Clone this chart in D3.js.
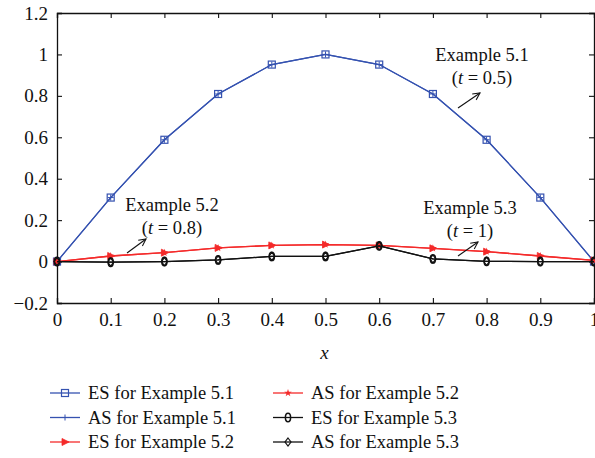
<!DOCTYPE html>
<html>
<head>
<meta charset="utf-8">
<script src="https://cdn.jsdelivr.net/npm/d3@7"></script>
<style>
  body { margin: 0; background: #fff; }
  svg text { font-family: "Liberation Serif", "DejaVu Serif", serif; fill: #111; }
</style>
</head>
<body>
<svg id="chart" width="595" height="458"></svg>
<script>
// data
var xs = [0, 0.1, 0.2, 0.3, 0.4, 0.5, 0.6, 0.7, 0.8, 0.9, 1];
var es51 = [0, 0.309, 0.588, 0.809, 0.951, 1, 0.951, 0.809, 0.588, 0.309, 0];
var as51 = [0, 0.309, 0.588, 0.809, 0.951, 1, 0.951, 0.809, 0.588, 0.309, 0];
var es52 = [0, 0.027, 0.043, 0.066, 0.078, 0.082, 0.078, 0.064, 0.048, 0.027, 0.006];
var as52 = [0, 0.027, 0.043, 0.066, 0.078, 0.082, 0.078, 0.064, 0.048, 0.027, 0.006];
var es53 = [0, -0.003, 0, 0.008, 0.025, 0.025, 0.076, 0.013, 0.001, 0, 0];
var as53 = [0, -0.003, 0, 0.008, 0.025, 0.025, 0.076, 0.013, 0.001, 0, 0];
var xTicks = [0, 0.1, 0.2, 0.3, 0.4, 0.5, 0.6, 0.7, 0.8, 0.9, 1];
var yTicks = [-0.2, 0, 0.2, 0.4, 0.6, 0.8, 1, 1.2];
var seriesNames = ["ES for Example 5.1", "AS for Example 5.1", "ES for Example 5.2",
                   "AS for Example 5.2", "ES for Example 5.3", "AS for Example 5.3"];

var blue = "#3552b0", red = "#f42a2a", black = "#111";
var series = [
  { name: seriesNames[0], vals: es51, color: blue, marker: "square", w: 1.2 },
  { name: seriesNames[1], vals: as51, color: blue, marker: "plus", w: 1.2 },
  { name: seriesNames[2], vals: es52, color: red, marker: "triangle", w: 1.3 },
  { name: seriesNames[3], vals: as52, color: red, marker: "star", w: 1.3 },
  { name: seriesNames[4], vals: es53, color: black, marker: "ellipse", w: 1.3 },
  { name: seriesNames[5], vals: as53, color: black, marker: "diamond", w: 1.3 }
];

var svg = d3.select("#chart");
// plot box (don't use "top" as a global, it's window.top)
var mLeft = 57, mRight = 594, mTop = 13, mBottom = 303;
var x = d3.scaleLinear().domain([0, 1]).range([mLeft, mRight]);
var y = d3.scaleLinear().domain([-0.2, 1.2]).range([mBottom, mTop]);

// axes with inward ticks on all four sides
function fmt(d) { return String(+d.toFixed(1)).replace("-", "\u2212"); }
var axB = svg.append("g").attr("transform", "translate(0," + mBottom + ")")
  .call(d3.axisBottom(x).tickValues(xTicks).tickSize(-5).tickPadding(10).tickFormat(fmt));
var axT = svg.append("g").attr("transform", "translate(0," + mTop + ")")
  .call(d3.axisTop(x).tickValues(xTicks).tickSize(-5).tickFormat(""));
var axL = svg.append("g").attr("transform", "translate(" + mLeft + ",0)")
  .call(d3.axisLeft(y).tickValues(yTicks).tickSize(-5).tickPadding(9).tickFormat(fmt));
var axR = svg.append("g").attr("transform", "translate(" + mRight + ",0)")
  .call(d3.axisRight(y).tickValues(yTicks).tickSize(-5).tickFormat(""));
[axB, axT, axL, axR].forEach(function (g) {
  g.selectAll("path.domain").attr("stroke", "#111").attr("stroke-width", 1.3);
  g.selectAll(".tick line").attr("stroke", "#111").attr("stroke-width", 1.1);
  g.selectAll(".tick text").style("font-size", "19px").attr("fill", "#111");
});

svg.append("text").attr("x", (mLeft + mRight) / 2 - 1).attr("y", 359)
  .attr("text-anchor", "middle").style("font-size", "19px").style("font-style", "italic").text("x");

function drawMarker(g, type, cx, cy, color) {
  if (type === "square") {
    g.append("rect").attr("x", cx - 3.5).attr("y", cy - 3.5).attr("width", 7).attr("height", 7)
      .attr("fill", "none").attr("stroke", color).attr("stroke-width", 1.2);
  } else if (type === "plus") {
    g.append("path").attr("d", "M" + (cx - 3) + "," + cy + "H" + (cx + 3) + "M" + cx + "," + (cy - 3) + "V" + (cy + 3))
      .attr("stroke", color).attr("stroke-width", 1);
  } else if (type === "triangle") {
    g.append("path").attr("d", "M" + (cx - 3) + "," + (cy - 3.5) + "L" + (cx + 4) + "," + cy + "L" + (cx - 3) + "," + (cy + 3.5) + "Z")
      .attr("fill", color).attr("stroke", color).attr("stroke-width", 0.8);
  } else if (type === "star") {
    g.append("path").attr("d", d3.symbol().type(d3.symbolStar).size(18)()).attr("transform", "translate(" + cx + "," + cy + ")")
      .attr("fill", color);
  } else if (type === "ellipse") {
    g.append("ellipse").attr("cx", cx).attr("cy", cy).attr("rx", 2.6).attr("ry", 4.2)
      .attr("fill", "none").attr("stroke", color).attr("stroke-width", 1.5);
  } else if (type === "diamond") {
    g.append("path").attr("d", "M" + cx + "," + (cy - 4) + "L" + (cx + 3) + "," + cy + "L" + cx + "," + (cy + 4) + "L" + (cx - 3) + "," + cy + "Z")
      .attr("fill", "none").attr("stroke", color).attr("stroke-width", 1.2);
  }
}

var line = d3.line().x(function (d) { return x(d[0]); }).y(function (d) { return y(d[1]); });
series.forEach(function (s) {
  var pts = xs.map(function (v, i) { return [v, s.vals[i]]; });
  var g = svg.append("g");
  g.append("path").datum(pts).attr("d", line).attr("fill", "none")
    .attr("stroke", s.color).attr("stroke-width", s.w);
  pts.forEach(function (p) { drawMarker(g, s.marker, x(p[0]), y(p[1]), s.color); });
});

// annotations
var notes = [
  { t1: "Example 5.1", t2: "0.5", cx: 482, y1: 61, y2: 84, a: [458, 108, 480, 93] },
  { t1: "Example 5.2", t2: "0.8", cx: 172, y1: 211, y2: 234, a: [127, 253, 146, 239] },
  { t1: "Example 5.3", t2: "1", cx: 470, y1: 214, y2: 237, a: [458, 256, 478, 242] }
];
svg.append("defs").append("marker").attr("id", "arr").attr("viewBox", "0 0 10 10")
  .attr("refX", 9).attr("refY", 5).attr("markerWidth", 8).attr("markerHeight", 8).attr("orient", "auto")
  .append("path").attr("d", "M1,1L9,5L1,9").attr("fill", "none").attr("stroke", "#111").attr("stroke-width", 1.2);
notes.forEach(function (n) {
  svg.append("text").attr("x", n.cx).attr("y", n.y1).attr("text-anchor", "middle")
    .style("font-size", "18.5px").text(n.t1);
  var t = svg.append("text").attr("x", n.cx).attr("y", n.y2).attr("text-anchor", "middle").style("font-size", "18.5px");
  t.append("tspan").text("(");
  t.append("tspan").style("font-style", "italic").text("t");
  t.append("tspan").text(" = " + n.t2 + ")");
  svg.append("line").attr("x1", n.a[0]).attr("y1", n.a[1]).attr("x2", n.a[2]).attr("y2", n.a[3])
    .attr("stroke", "#111").attr("stroke-width", 1.1).attr("marker-end", "url(#arr)");
});

// legend, two columns
var legend = svg.append("g");
series.forEach(function (s, i) {
  var col = Math.floor(i / 3), row = i % 3;
  var lx = col === 0 ? 50 : 273, ly = 393 + row * 24.5;
  legend.append("line").attr("x1", lx).attr("x2", lx + 30).attr("y1", ly).attr("y2", ly)
    .attr("stroke", s.color).attr("stroke-width", 1.3);
  drawMarker(legend, s.marker, lx + 15, ly, s.color);
  legend.append("text").attr("x", lx + 38).attr("y", ly + 6).style("font-size", "18.5px").text(s.name);
});
</script>
</body>
</html>
